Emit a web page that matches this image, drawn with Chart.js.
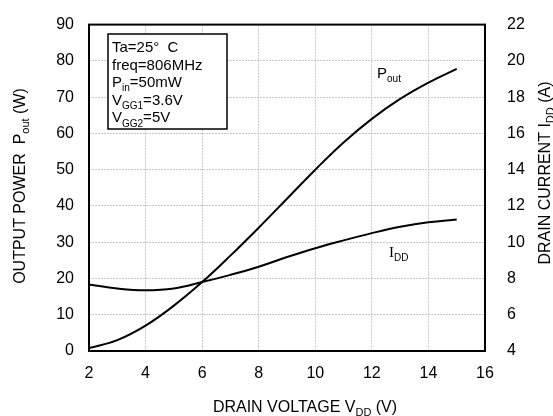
<!DOCTYPE html>
<html>
<head>
<meta charset="utf-8">
<script src="https://cdn.jsdelivr.net/npm/chart.js@4"></script>
<style>
  html, body { margin: 0; padding: 0; background: #fff; }
  #wrap { width: 553px; height: 416px; }
</style>
</head>
<body>
<div id="wrap"><canvas id="grafico" width="553" height="416"></canvas></div>
<script>
// drain voltage V_DD (V)
const tensoes = [2, 3, 4, 5, 6, 7, 8, 9, 10, 11, 12, 13, 14, 15];
// output power P_out (W)
const potencia = [0.8, 3, 7, 12.5, 19, 26.3, 34, 42, 50, 57.5, 64, 69.5, 74, 77.8];
// drain current I_DD (A)
const corrente = [7.67, 7.45, 7.35, 7.45, 7.8, 8.2, 8.65, 9.18, 9.67, 10.1, 10.5, 10.85, 11.1, 11.25];

const ticksX = [2, 4, 6, 8, 10, 12, 14, 16];
const ticksEsq = [0, 10, 20, 30, 40, 50, 60, 70, 80, 90];
const ticksDir = [4, 6, 8, 10, 12, 14, 16, 18, 20, 22];

const condicoes = [
  [['Ta=25\u00b0  C', 0]],
  [['freq=806MHz', 0]],
  [['P', 0], ['in', 1], ['=50mW', 0]],
  [['V', 0], ['GG1', 1], ['=3.6V', 0]],
  [['V', 0], ['GG2', 1], ['=5V', 0]],
];

const FONTE = '"Liberation Sans", Arial, sans-serif';

// desenha texto com partes em subscrito, retorna largura
function textoSub(ctx, partes, x, y, tam, medir) {
  let w = 0;
  for (const [t, sub] of partes) {
    let f = sub ? Math.round(tam * 0.68) : tam;
    ctx.font = f + 'px ' + FONTE;
    if (!medir) ctx.fillText(t, x + w, y + (sub ? tam * 0.28 : 0));
    w += ctx.measureText(t).width;
  }
  return w;
}

const extras = {
  id: 'extras',
  afterDatasetsDraw(chart) {
    const ctx = chart.ctx;
    const a = chart.chartArea;
    ctx.save();
    // moldura
    ctx.strokeStyle = '#000';
    ctx.lineWidth = 2;
    ctx.strokeRect(a.left, a.top, a.right - a.left, a.bottom - a.top);

    // caixa de condicoes
    ctx.fillStyle = '#fff';
    ctx.fillRect(108, 34, 119, 95);
    ctx.lineWidth = 1.5;
    ctx.strokeRect(108, 34, 119, 95);
    ctx.fillStyle = '#000';
    ctx.textBaseline = 'alphabetic';
    condicoes.forEach((linha, i) => {
      textoSub(ctx, linha, 112, 52 + i * 17.6, 15);
    });

    // rotulos das curvas
    textoSub(ctx, [['P', 0], ['out', 1]], 377, 78, 15);
    ctx.font = '15px "Liberation Serif", serif';
    ctx.fillText('I', 389, 257);
    textoSub(ctx, [['DD', 1]], 394, 257, 15);

    // titulo eixo x
    const tx = [['DRAIN VOLTAGE V', 0], ['DD', 1], [' (V)', 0]];
    let w = textoSub(ctx, tx, 0, 0, 16, true);
    textoSub(ctx, tx, 305 - w / 2, 412, 16);

    // titulo eixo esquerdo
    const te = [['OUTPUT POWER  P', 0], ['out', 1], [' (W)', 0]];
    w = textoSub(ctx, te, 0, 0, 16, true);
    ctx.save();
    ctx.translate(25, 186);
    ctx.rotate(-Math.PI / 2);
    textoSub(ctx, te, -w / 2, 0, 16);
    ctx.restore();

    // titulo eixo direito
    const td = [['DRAIN CURRENT I', 0], ['DD', 1], [' (A)', 0]];
    w = textoSub(ctx, td, 0, 0, 16, true);
    ctx.save();
    ctx.translate(550, 173);
    ctx.rotate(-Math.PI / 2);
    textoSub(ctx, td, -w / 2, 0, 16);
    ctx.restore();

    ctx.restore();
  },
};

function criarGrafico() {
  const canvas = document.getElementById('grafico');
  const ctx = canvas.getContext('2d');
  const fonteTick = { family: FONTE, size: 16 };

  new Chart(ctx, {
    type: 'scatter',
    data: {
      datasets: [
        {
          label: 'Pout',
          data: tensoes.map((v, i) => ({ x: v, y: potencia[i] })),
          yAxisID: 'y',
          showLine: true,
          borderColor: '#000',
          borderWidth: 2,
          pointRadius: 0,
          tension: 0.4,
        },
        {
          label: 'IDD',
          data: tensoes.map((v, i) => ({ x: v, y: corrente[i] })),
          yAxisID: 'y2',
          showLine: true,
          borderColor: '#000',
          borderWidth: 2,
          pointRadius: 0,
          tension: 0.4,
        },
      ],
    },
    options: {
      responsive: false,
      animation: false,
      layout: { padding: { top: 17, left: 0, right: 0, bottom: 0 } },
      plugins: { legend: { display: false }, tooltip: { enabled: false } },
      scales: {
        x: {
          type: 'linear',
          min: 2,
          max: 16,
          afterBuildTicks: (s) => { s.ticks = ticksX.map((v) => ({ value: v })); },
          afterFit: (s) => { s.height = 65; },
          ticks: { font: fonteTick, color: '#000', padding: 13 },
          grid: { color: '#c8c8c8', lineWidth: 1, drawTicks: false },
          border: { display: false, dash: [2, 1] },
        },
        y: {
          position: 'left',
          min: 0,
          max: 90,
          afterBuildTicks: (s) => { s.ticks = ticksEsq.map((v) => ({ value: v })); },
          afterFit: (s) => { s.width = 89; },
          ticks: { font: fonteTick, color: '#000', padding: 15 },
          grid: { color: '#c8c8c8', lineWidth: 1, drawTicks: false },
          border: { display: false, dash: [2, 1] },
        },
        y2: {
          position: 'right',
          min: 4,
          max: 22,
          afterBuildTicks: (s) => { s.ticks = ticksDir.map((v) => ({ value: v })); },
          afterFit: (s) => { s.width = 68; },
          ticks: { font: fonteTick, color: '#000', padding: 14 },
          grid: { display: false },
          border: { display: false },
        },
      },
    },
    plugins: [extras],
  });
}

document.addEventListener('DOMContentLoaded', criarGrafico);
</script>
</body>
</html>
